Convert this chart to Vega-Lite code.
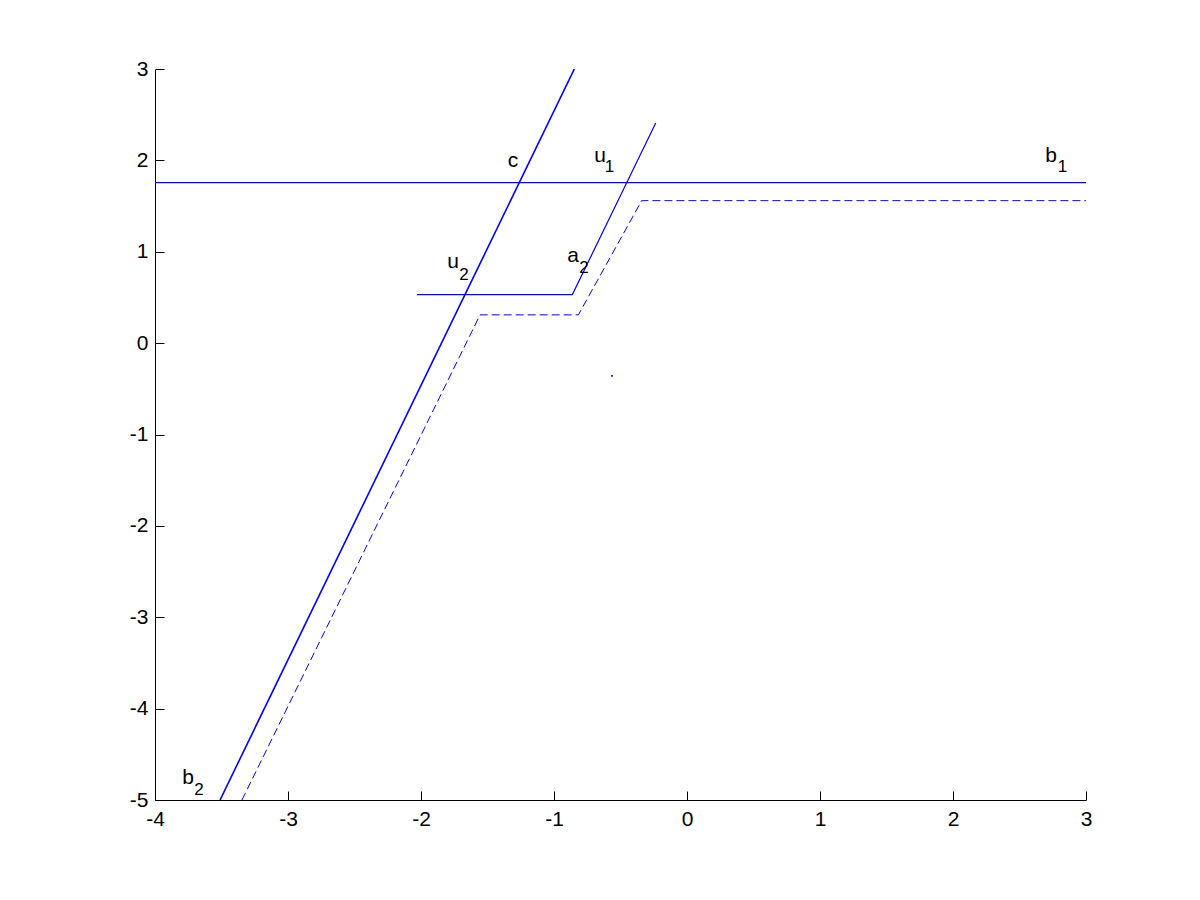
{
  "$schema": "https://vega.github.io/schema/vega-lite/v6.json",
  "width": 931,
  "height": 731,
  "autosize": {"type": "none"},
  "padding": {"left": 155, "top": 69, "right": 114, "bottom": 100},
  "background": "white",
  "config": {
    "view": {"stroke": null},
    "font": "Liberation Sans",
    "axis": {
      "grid": false,
      "domainColor": "black",
      "domainWidth": 1,
      "tickColor": "black",
      "tickWidth": 1,
      "tickSize": -9,
      "labelFont": "Liberation Sans",
      "labelFontSize": 21,
      "labelColor": "black",
      "title": null
    }
  },
  "datasets": {
    "lines": [
      {"series": "b1", "x": -4, "y": 1.756, "o": 1},
      {"series": "b1", "x": 3, "y": 1.756, "o": 2},
      {"series": "u1", "x": -2.03, "y": 0.531, "o": 1},
      {"series": "u1", "x": -0.862, "y": 0.531, "o": 2},
      {"series": "u1", "x": -0.235, "y": 2.41, "o": 3}
    ],
    "cline": [
      {"series": "c", "x": -3.511, "y": -5, "o": 1},
      {"series": "c", "x": -0.847, "y": 3.0, "o": 2}
    ],
    "dashed": [
      {"series": "d", "x": -3.346, "y": -5, "o": 1},
      {"series": "d", "x": -1.556, "y": 0.309, "o": 2},
      {"series": "d", "x": -0.817, "y": 0.309, "o": 3},
      {"series": "d", "x": -0.341, "y": 1.559, "o": 4},
      {"series": "d", "x": 3, "y": 1.559, "o": 5}
    ],
    "letters": [
      {"t": "c", "x": -1.308, "y": 1.928},
      {"t": "u", "x": -0.654, "y": 1.983},
      {"t": "a", "x": -0.857, "y": 0.888},
      {"t": "b", "x": 2.737, "y": 1.983},
      {"t": "u", "x": -1.759, "y": 0.823},
      {"t": "b", "x": -3.752, "y": -4.823}
    ],
    "subs": [
      {"t": "1", "x": -0.583, "y": 1.873},
      {"t": "2", "x": -0.774, "y": 0.768},
      {"t": "1", "x": 2.823, "y": 1.873},
      {"t": "2", "x": -1.677, "y": 0.691},
      {"t": "2", "x": -3.669, "y": -4.943}
    ],
    "dots": [
      {"x": -0.564, "y": -0.359}
    ]
  },
  "layer": [
    {
      "data": {"name": "lines"},
      "mark": {"type": "line", "color": "#0000ff", "strokeWidth": 1.2, "clip": true},
      "encoding": {
        "x": {"field": "x", "type": "quantitative", "scale": {"domain": [-4, 3], "nice": false, "zero": false},
              "axis": {"values": [-4, -3, -2, -1, 0, 1, 2, 3], "labelPadding": 17, "labelFontSize": 21, "labelFont": "Liberation Sans", "labelExpr": "datum.value < 0 ? '-' + abs(datum.value) : '' + datum.value", "labelFlush": false, "labelOverlap": false}},
        "y": {"field": "y", "type": "quantitative", "scale": {"domain": [-5, 3], "nice": false, "zero": false},
              "axis": {"values": [-5, -4, -3, -2, -1, 0, 1, 2, 3], "labelPadding": 16, "labelFontSize": 21, "labelFont": "Liberation Sans", "labelExpr": "datum.value < 0 ? '-' + abs(datum.value) : '' + datum.value", "labelFlush": false, "labelOverlap": false}},
        "detail": {"field": "series"},
        "order": {"field": "o"}
      }
    },
    {
      "data": {"name": "cline"},
      "mark": {"type": "line", "color": "#0000ff", "strokeWidth": 1.6, "clip": true},
      "encoding": {
        "x": {"field": "x", "type": "quantitative"},
        "y": {"field": "y", "type": "quantitative"},
        "order": {"field": "o"}
      }
    },
    {
      "data": {"name": "dashed"},
      "mark": {"type": "line", "color": "#0000ff", "strokeWidth": 1, "strokeDash": [8, 4], "clip": true},
      "encoding": {
        "x": {"field": "x", "type": "quantitative"},
        "y": {"field": "y", "type": "quantitative"},
        "order": {"field": "o"}
      }
    },
    {
      "data": {"name": "dots"},
      "mark": {"type": "square", "color": "#0000ff", "size": 3, "filled": true, "opacity": 1},
      "encoding": {
        "x": {"field": "x", "type": "quantitative"},
        "y": {"field": "y", "type": "quantitative"}
      }
    },
    {
      "data": {"name": "letters"},
      "mark": {"type": "text", "fontSize": 21, "color": "black", "align": "center", "baseline": "alphabetic"},
      "encoding": {
        "x": {"field": "x", "type": "quantitative"},
        "y": {"field": "y", "type": "quantitative"},
        "text": {"field": "t"}
      }
    },
    {
      "data": {"name": "subs"},
      "mark": {"type": "text", "fontSize": 17, "color": "black", "align": "center", "baseline": "alphabetic"},
      "encoding": {
        "x": {"field": "x", "type": "quantitative"},
        "y": {"field": "y", "type": "quantitative"},
        "text": {"field": "t"}
      }
    }
  ]
}
